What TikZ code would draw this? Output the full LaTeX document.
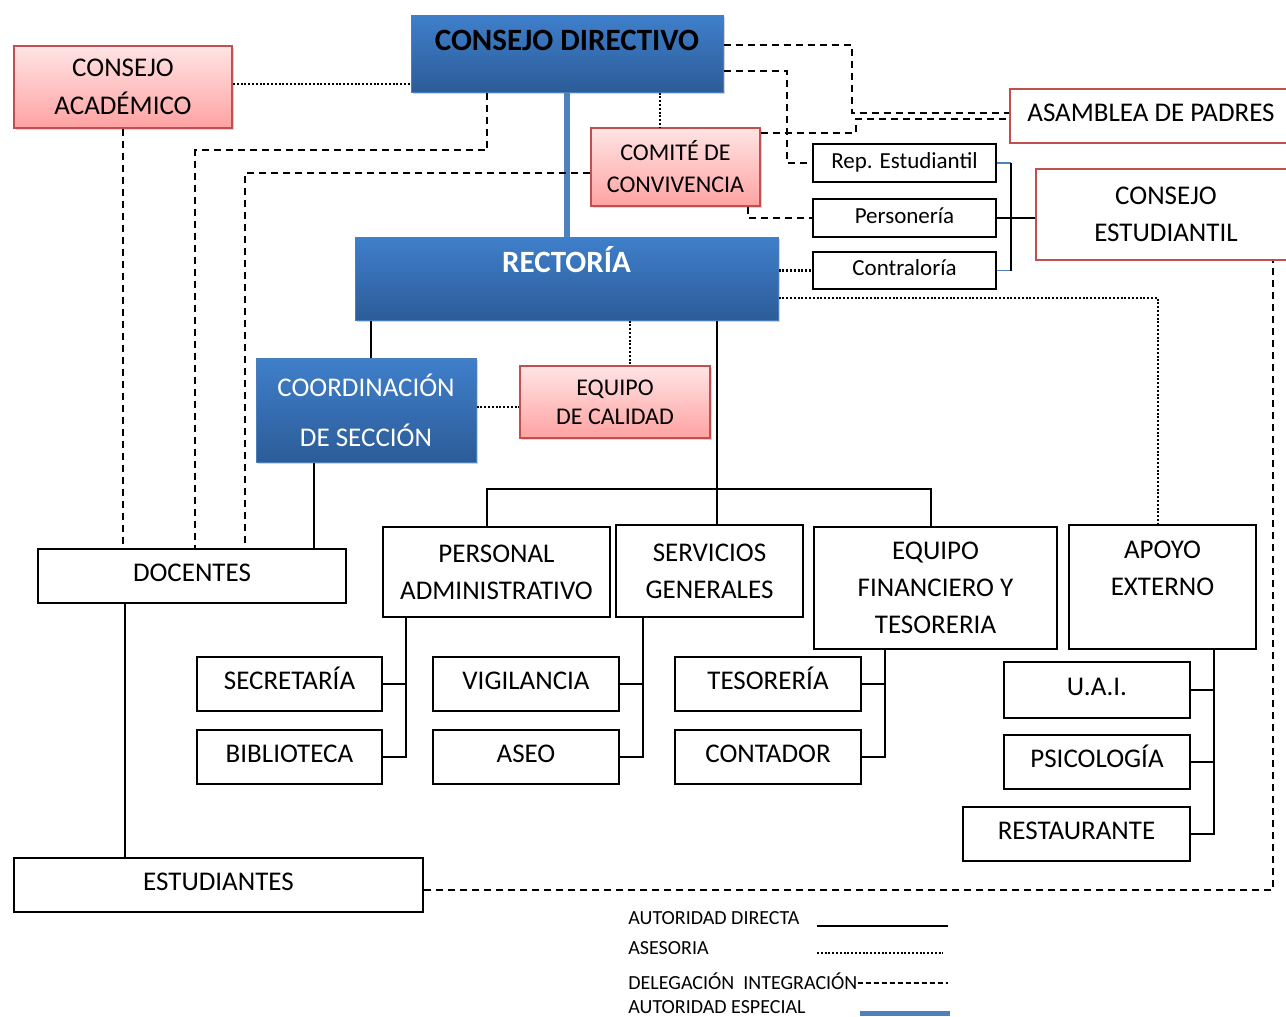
\documentclass[tikz,border=0pt]{standalone}
\usepackage{fontspec}
\setmainfont{Carlito}
\usetikzlibrary{positioning, shadows}

\definecolor{azularriba}{HTML}{3F7FCB}
\definecolor{azulabajo}{HTML}{2C5C98}
\definecolor{azulborde}{HTML}{4A7EBB}
\definecolor{rosaarriba}{HTML}{FFE4E4}
\definecolor{rosaabajo}{HTML}{FFA2A2}
\definecolor{rojoborde}{HTML}{C0504D}
\definecolor{lineaazul}{HTML}{4F81BD}

\begin{document}
\begin{tikzpicture}[x=0.5pt, y=-0.5pt,
  caja/.style={draw, line width=0.9pt, inner sep=0pt, align=center, font=\fontsize{13.5}{18.5}\selectfont},
  una/.style={caja, text height=9pt, text depth=4pt},
  azulcaja/.style={caja, draw=azulborde, line width=0.5pt, top color=azularriba, bottom color=azulabajo,
    drop shadow={shadow xshift=1pt, shadow yshift=-1.2pt, opacity=0.35}},
  rosacaja/.style={caja, draw=rojoborde, top color=rosaarriba, bottom color=rosaabajo,
    font=\fontsize{12}{16}\selectfont, drop shadow={shadow xshift=1pt, shadow yshift=-1.2pt, opacity=0.3}},
  rojacaja/.style={caja, draw=rojoborde, line width=1.3pt},
  chica/.style={caja, font=\fontsize{11.5}{14}\selectfont, text height=8pt, text depth=3pt},
  leyenda/.style={anchor=west, inner sep=0pt, font=\fontsize{10}{12}\selectfont},
  directa/.style={line width=0.8pt},
  asesoria/.style={line width=1.3pt, dash pattern=on 1pt off 0.9pt},
  delega/.style={line width=0.8pt, dash pattern=on 3.5pt off 2.5pt},
  especial/.style={line width=3pt, draw=lineaazul},
  ]
  \useasboundingbox (0,0) rectangle (1286,1017);
  \clip (0,0) rectangle (1286,1017);

  \draw (567,53.5) node[azulcaja, minimum width=156pt, minimum height=38.5pt, font=\fontsize{15.5}{18}\selectfont\bfseries,
    text height=10pt, text depth=13.5pt] (cdir) {CONSEJO DIRECTIVO};
  \draw (123,87) node[rosacaja, minimum width=109pt, minimum height=41pt, font=\fontsize{13.5}{19}\selectfont] (cacad) {CONSEJO\\ACADÉMICO};
  \draw (675.5,167) node[rosacaja, minimum width=84.5pt, minimum height=39pt] (comite) {COMITÉ DE\\CONVIVENCIA};
  \draw (566.5,278.5) node[azulcaja, minimum width=211.5pt, minimum height=41.5pt, text=white, font=\fontsize{15.5}{18}\selectfont\bfseries,
    text height=10pt, text depth=16.5pt] (rect) {RECTORÍA};
  \draw (366,410) node[azulcaja, minimum width=110pt, minimum height=52pt, text=white, font=\fontsize{13.5}{25}\selectfont] (coord) {COORDINACIÓN\\DE SECCIÓN};
  \draw (615,402) node[rosacaja, minimum width=95pt, minimum height=36pt, font=\fontsize{12}{14.5}\selectfont] (calidad) {EQUIPO\\DE CALIDAD};

  \draw (904.5,163) node[chica, minimum width=91.5pt, minimum height=19pt] (rep) {Rep. Estudiantil};
  \draw (904.5,218) node[chica, minimum width=91.5pt, minimum height=19pt] (perso) {Personería};
  \draw (904.5,270.5) node[chica, minimum width=91.5pt, minimum height=18.5pt] (contra) {Contraloría};
  \draw (1151,116) node[rojacaja, una, minimum width=141pt, minimum height=27pt] (asamblea) {ASAMBLEA DE PADRES};
  \draw (1166,214.5) node[rojacaja, minimum width=130pt, minimum height=45.5pt] (cestud) {CONSEJO\\ESTUDIANTIL};

  \draw (192,576) node[una, minimum width=154pt, minimum height=27pt] (docentes) {DOCENTES};
  \draw (496.5,572) node[caja, minimum width=113.5pt, minimum height=45pt] (personal) {PERSONAL\\ADMINISTRATIVO};
  \draw (709.5,571) node[caja, minimum width=93.5pt, minimum height=46pt] (servicios) {SERVICIOS\\GENERALES};
  \draw (935.5,588) node[caja, minimum width=121.5pt, minimum height=61pt] (financiero) {EQUIPO\\FINANCIERO Y\\TESORERIA};
  \draw (1162.5,587) node[caja, minimum width=93.5pt, minimum height=62pt] (apoyo) {APOYO\\EXTERNO\\~};

  \draw (289.5,684) node[una, minimum width=92.5pt, minimum height=27pt] (secret) {SECRETARÍA};
  \draw (289.5,757) node[una, minimum width=92.5pt, minimum height=27pt] (biblio) {BIBLIOTECA};
  \draw (526,684) node[una, minimum width=93pt, minimum height=27pt] (vigil) {VIGILANCIA};
  \draw (526,757) node[una, minimum width=93pt, minimum height=27pt] (aseo) {ASEO};
  \draw (768,684) node[una, minimum width=93pt, minimum height=27pt] (tesoreria) {TESORERÍA};
  \draw (768,757) node[una, minimum width=93pt, minimum height=27pt] (contador) {CONTADOR};
  \draw (1097,690) node[una, minimum width=93pt, minimum height=28pt] (uai) {U.A.I.};
  \draw (1097,762) node[una, minimum width=93pt, minimum height=27pt] (psico) {PSICOLOGÍA};
  \draw (1076.5,834) node[una, minimum width=113.5pt, minimum height=27pt] (restaur) {RESTAURANTE};
  \draw (218.5,885) node[una, minimum width=204.5pt, minimum height=27pt] (estud) {ESTUDIANTES};

  \draw [especial] (cdir.south) -- (cdir.south |- rect.north);
  \draw [asesoria] (cacad.east |- 0,84) -- (cdir.west |- 0,84);
  \draw [asesoria] (660,0 |- cdir.south) -- (660,0 |- comite.north);
  \draw [delega] (cacad.south) -- (cacad.south |- docentes.north);
  \draw [delega] (487,0 |- cdir.south) -- (487,150) -| (195,0 |- docentes.north);
  \draw [delega] (comite.west |- 0,173) -| (245,0 |- docentes.north);
  \draw [delega] (cdir.east |- 0,45) -| (852,113) -- (asamblea.west |- 0,113);
  \draw [delega] (comite.east |- 0,133) -| (856,119) -- (asamblea.west |- 0,119);
  \draw [delega] (cdir.east |- 0,71) -- (787,71) |- (rep.west);
  \draw [delega] (748,0 |- comite.south) |- (perso.west);
  \draw [asesoria] (rect.east |- contra.west) -- (contra.west);
  \draw [asesoria] (rect.east |- 0,298) -| (1158,0 |- apoyo.north);

  \draw [lineaazul, line width=0.6pt] (rep.east) -- (1011,0 |- rep.east);
  \draw [lineaazul, line width=0.6pt] (contra.east) -- (1011,0 |- contra.east);
  \draw [directa] (1011,0 |- rep.east) -- (1011,0 |- contra.east);
  \draw [directa] (perso.east) -- (cestud.west |- perso.east);

  \draw [directa] (371,0 |- rect.south) -- (371,0 |- coord.north);
  \draw [asesoria] (630,0 |- rect.south) -- (630,0 |- calidad.north);
  \draw [asesoria] (coord.east |- 0,407) -- (calidad.west |- 0,407);
  \draw [directa] (314,0 |- coord.south) -- (314,0 |- docentes.north);
  \draw [directa] (717,0 |- rect.south) -- (717,0 |- servicios.north);
  \draw [directa] (487,0 |- personal.north) |- (931,489) -- (931,0 |- financiero.north);

  \draw [directa] (406,0 |- personal.south) |- (biblio.east);
  \draw [directa] (secret.east) -- (406,0 |- secret.east);
  \draw [directa] (643,0 |- servicios.south) |- (aseo.east);
  \draw [directa] (vigil.east) -- (643,0 |- vigil.east);
  \draw [directa] (885,0 |- financiero.south) |- (contador.east);
  \draw [directa] (tesoreria.east) -- (885,0 |- tesoreria.east);
  \draw [directa] (1214,0 |- apoyo.south) |- (restaur.east);
  \draw [directa] (uai.east) -- (1214,0 |- uai.east);
  \draw [directa] (psico.east) -- (1214,0 |- psico.east);
  \draw [directa] (125,0 |- docentes.south) -- (125,0 |- estud.north);
  \draw [delega] (estud.east |- 0,890) -| (1273,0 |- cestud.south);

  \draw (628,918) node[leyenda] (ldir) {AUTORIDAD DIRECTA};
  \draw (628,948) node[leyenda] (lase) {ASESORIA};
  \draw (628,981) node[leyenda] (ldel) {DELEGACIÓN\ \ INTEGRACIÓN};
  \draw (628,1007) node[leyenda] (lesp) {AUTORIDAD ESPECIAL};
  \draw [directa] (817,926) -- (948,926);
  \draw [asesoria, line width=1pt] (817,953) -- (943,953);
  \draw [delega, line width=0.6pt, dash pattern=on 2.5pt off 1.5pt] (ldel.east |- 0,983) -- (948,983);
  \draw [especial, line width=2.5pt] (860,1013) -- (950,1013);
\end{tikzpicture}
\end{document}
